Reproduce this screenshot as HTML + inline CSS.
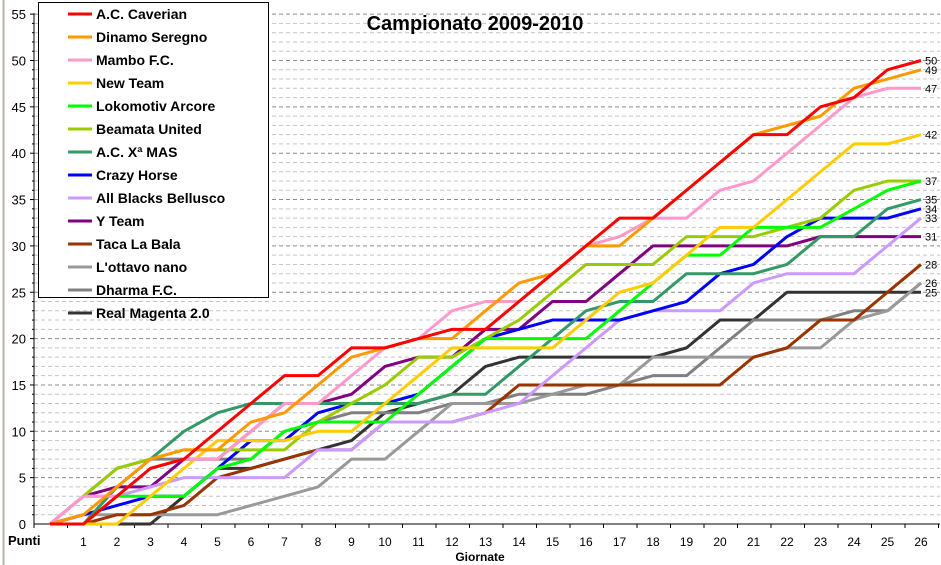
<!DOCTYPE html>
<html><head><meta charset="utf-8"><style>
body{margin:0;background:#fff;}
svg{display:block;font-family:"Liberation Sans",Arial,sans-serif;}
</style></head><body>
<svg id="chart" width="941" height="565" viewBox="0 0 941 565">
<rect x="0" y="0" width="941" height="565" fill="#fff"/>
<line x1="3.5" y1="0" x2="3.5" y2="565" stroke="#b8b4a8" stroke-width="2"/>
<g id="grid"></g><g id="axes"></g><g id="series"></g><g id="endlabels"></g>
<text x="475" y="30" text-anchor="middle" font-size="20" font-weight="bold">Campionato 2009-2010</text>
<text x="8" y="545" font-size="13" font-weight="bold">Punti</text>
<text x="480" y="561" text-anchor="middle" font-size="12" font-weight="bold">Giornate</text>
<g id="legend"></g>
</svg>
<script>
const teams=["A.C. Caverian","Dinamo Seregno","Mambo F.C.","New Team","Lokomotiv Arcore","Beamata United","A.C. Xª MAS","Crazy Horse","All Blacks Bellusco","Y Team","Taca La Bala","L'ottavo nano","Dharma F.C.","Real Magenta 2.0"];
const colors=["#ff0000","#ff9900","#ff99cc","#ffcc00","#00ff00","#99cc00","#339966","#0000ff","#cc99ff","#800080","#993300","#999999","#808080","#333333"];
const rounds=[0,1,2,3,4,5,6,7,8,9,10,11,12,13,14,15,16,17,18,19,20,21,22,23,24,25,26];
const yTicks=[0,5,10,15,20,25,30,35,40,45,50,55];
const caverian=[0,0,3,6,7,10,13,16,16,19,19,20,21,21,24,27,30,33,33,36,39,42,42,45,46,49,50];
const dinamo=[0,1,4,7,8,8,11,12,15,18,19,20,20,23,26,27,30,30,33,36,39,42,43,44,47,48,49];
const mambo=[0,3,3,6,7,7,10,13,13,16,19,20,23,24,24,27,30,31,33,33,36,37,40,43,46,47,47];
const newTeam=[0,0,0,3,6,9,9,9,10,10,13,16,19,19,19,19,22,25,26,29,32,32,35,38,41,41,42];
const lokomotiv=[0,0,3,3,3,6,7,10,11,11,11,14,17,20,20,20,20,23,26,29,29,32,32,32,34,36,37];
const beamata=[0,3,6,7,8,8,8,8,11,13,15,18,18,20,22,25,28,28,28,31,31,31,32,33,36,37,37];
const xmas=[0,0,4,7,10,12,13,13,13,13,13,13,14,14,17,20,23,24,24,27,27,27,28,31,31,34,35];
const crazy=[0,1,2,3,3,6,9,9,12,13,13,14,17,20,21,22,22,22,23,24,27,28,31,33,33,33,34];
const allBlacks=[0,3,3,4,5,5,5,5,8,8,11,11,11,12,13,16,19,22,23,23,23,26,27,27,27,30,33];
const yTeam=[0,3,4,4,7,7,10,13,13,14,17,18,18,21,21,24,24,27,30,30,30,30,30,31,31,31,31];
const taca=[0,0,1,1,2,5,6,7,8,8,11,11,11,12,15,15,15,15,15,15,15,18,19,22,22,25,28];
const ottavo=[0,1,1,1,1,1,2,3,4,7,7,10,13,13,13,14,15,15,18,18,18,18,19,19,22,23,26];
const dharma=[0,3,6,7,7,7,7,10,11,12,12,12,13,13,14,14,14,15,16,16,19,22,22,22,23,23,26];
const magenta=[0,0,0,0,3,6,6,7,8,9,12,13,14,17,18,18,18,18,18,19,22,22,25,25,25,25,25];
const allSeries=[caverian,dinamo,mambo,newTeam,lokomotiv,beamata,xmas,crazy,allBlacks,yTeam,taca,ottavo,dharma,magenta];

const NS="http://www.w3.org/2000/svg";
const x0=50,dx=33.5,yBase=524,yScale=9.27,axisX=34;
const X=r=>x0+r*dx;
const Y=v=>yBase-v*yScale;
function mk(tag,attrs,parent){const e=document.createElementNS(NS,tag);for(const k in attrs)e.setAttribute(k,attrs[k]);parent.appendChild(e);return e;}
const grid=document.getElementById('grid'),axes=document.getElementById('axes'),ser=document.getElementById('series'),endl=document.getElementById('endlabels'),leg=document.getElementById('legend');
for(let v=1;v<=55;v++){
  const major=v%5===0;
  const l=mk('line',{x1:axisX,x2:940,y1:Y(v),y2:Y(v),stroke:major?'#8c8c8c':'#c4c4c4','stroke-width':1,'stroke-dasharray':'4,3'},grid);
  
  
}
let a=mk('line',{x1:axisX,x2:axisX,y1:Y(55)-1,y2:Y(0),stroke:'#000','stroke-width':1},axes);


a=mk('line',{x1:axisX,x2:940,y1:Y(0),y2:Y(0),stroke:'#000','stroke-width':1},axes);


for(let v=1;v<=55;v++){
  const t=mk('line',{x1:axisX-(v%5===0?4:2),x2:axisX,y1:Y(v),y2:Y(v),stroke:'#000'},axes);
  
  
}
yTicks.forEach(v=>{
  const t=mk('text',{x:26,y:Y(v)+5,'text-anchor':'end','font-size':13},axes);
  t.textContent=v;
  
  
});
for(let k=0;k<=27;k++){
  const t=mk('line',{x1:axisX+k*dx,x2:axisX+k*dx,y1:Y(0),y2:Y(0)+4,stroke:'#000'},axes);
  
  
}
rounds.forEach(r=>{
  if(r===0)return;
  const t=mk('text',{x:X(r),y:546,'text-anchor':'middle','font-size':12},axes);
  t.textContent=r;
  
  
});
for(let i=allSeries.length-1;i>=0;i--){
  const d=allSeries[i];
  const p=mk('polyline',{points:d.map((v,r)=>X(rounds[r])+','+Y(v)).join(' '),fill:'none',stroke:colors[i],'stroke-width':3,'stroke-linejoin':'round'},ser);
  
  
}
// end labels (avoid duplicate positions)
const seen={};
allSeries.forEach((d,i)=>{
  const v=d[d.length-1];
  if(seen[v])return;seen[v]=1;
  const t=mk('text',{x:X(26)+4,y:Y(v)+4,'font-size':11},endl);
  t.textContent=v;
  
  
});
// legend
const lb=mk('rect',{x:38.5,y:2.5,width:230,height:295,fill:'#fff',stroke:'#000','stroke-width':1},leg);


teams.forEach((n,i)=>{
  const y=14+i*23;
  const g=mk('g',{},leg);
  
  
  mk('line',{x1:68,x2:92,y1:y,y2:y,stroke:colors[i],'stroke-width':3},g);
  const t=mk('text',{x:96,y:y+5,'font-size':14,'font-weight':'bold'},g);
  t.textContent=n;
});
</script>
</body></html>
